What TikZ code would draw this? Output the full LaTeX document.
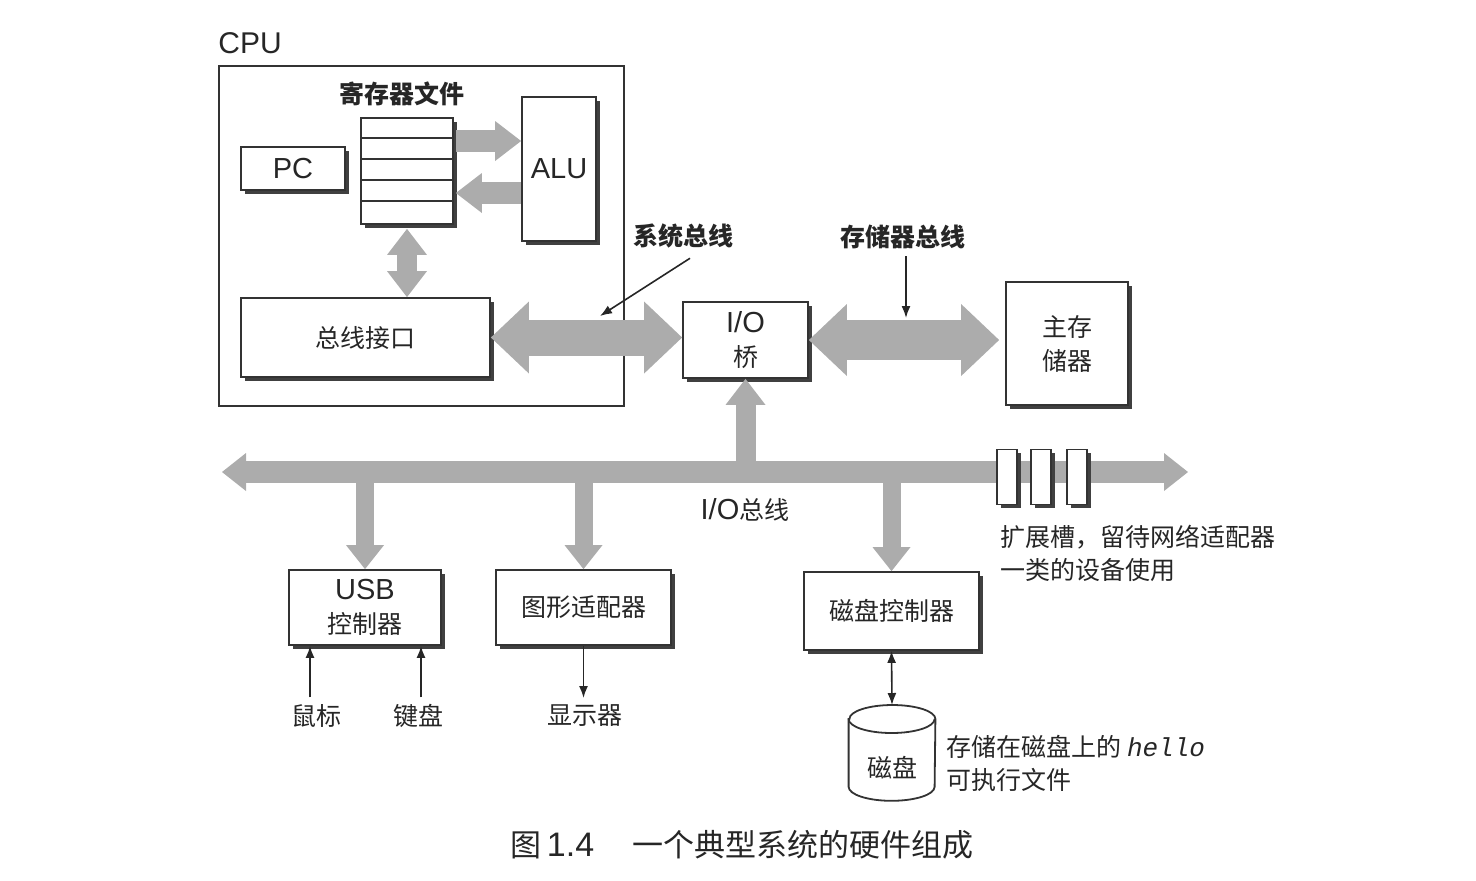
\documentclass[tikz,border=0pt]{standalone}
\usepackage{fontspec}
\setmainfont{Liberation Sans}
\newfontfamily\cjk{Noto Sans CJK SC}
\newfontfamily\monofam{Liberation Mono}
\usetikzlibrary{positioning,arrows.meta,calc,shadows}
\definecolor{busgray}{RGB}{172,172,172}
\newcommand{\lat}{\rmfamily\fontsize{14.5}{17}\selectfont}
\newcommand{\zh}{\cjk\fontsize{12.5}{17}\selectfont}

\begin{document}
\begin{tikzpicture}[x=0.5pt,y=-0.5pt,>={Latex[length=6pt,width=4.5pt]},
  box/.style={draw=black!80,line width=0.9pt,fill=white,inner sep=0pt,
    drop shadow={shadow xshift=1.8pt,shadow yshift=-1.8pt,fill=black!75,opacity=1}},
  txt/.style={font=\zh,text=black!85,align=center},
  note/.style={txt,font=\zh\bfseries},
  fattip/.tip={Triangle[length=13pt,width=20pt,line width=0pt]},
  bustip/.tip={Triangle[length=12pt,width=19pt,line width=0pt]},
  bigtip/.tip={Triangle[length=19pt,width=36pt,line width=0pt]},
  fat/.style={draw=busgray,line width=10pt},
  ptr/.style={draw=black!85,line width=0.8pt,->}]
\useasboundingbox (0,0) rectangle (1476,880);
% ---- CPU ----
\node[draw=black!80,line width=1.4pt,minimum width=202.5pt,minimum height=170pt] (cpu) at (421.5,236) {};
\node[font=\lat\fontsize{15}{17}\selectfont,text=black!85,anchor=base west,inner sep=0pt] (cpulbl) at (218,53) {CPU};
\node[box,minimum width=52pt,minimum height=21.5pt,font=\lat,text=black!85] (pc) at (293,168.5) {PC};
\node[box,minimum width=46pt,minimum height=53pt] (regfile) at (407,171) {};
\foreach \ry in {138,159,180,201}
  \draw[black!80,line width=0.7pt] (regfile.west |- 0,\ry) -- (regfile.east |- 0,\ry);
\node[note] (rflbl) at (402,94) {寄存器文件};
\node[box,minimum width=37pt,minimum height=72pt,font=\lat,text=black!85] (alu) at (559,169) {ALU};
\node[box,minimum width=124.5pt,minimum height=39.5pt,txt] (busif) at (365.5,337.5) {总线接口};
\coordinate (rd) at (0,141);
\coordinate (wr) at (0,193);
\draw[fat,line width=11pt,-fattip,shorten <=1pt] (regfile.east |- rd) -- (alu.west |- rd);
\draw[fat,line width=11pt,-fattip,shorten >=1pt] (alu.west |- wr) -- (regfile.east |- wr);
\draw[fat,fattip-fattip,shorten <=2pt] (regfile.south) -- (regfile.south |- busif.north);
% ---- bridge and memory ----
\node[box,minimum width=62.5pt,minimum height=38pt,txt] (iobridge) at (745.5,340) {{\lat I/O}\\桥};
\node[box,minimum width=61pt,minimum height=61.5pt,txt] (mainmem) at (1067,343.5) {主存\\储器};
\draw[fat,line width=18pt,bigtip-bigtip] (busif.east) -- (busif.east -| iobridge.west);
\draw[fat,line width=20pt,bigtip-bigtip,shorten >=3pt] (iobridge.east) -- (iobridge.east -| mainmem.west);
\node[note] (syslbl) at (683,236) {系统总线};
\coordinate (sysbus) at (600,316);
\draw[ptr] ([xshift=3.5pt,yshift=-1.5pt]syslbl.south) -- (sysbus);
\node[note] (memlbl) at (903,237) {存储器总线};
\coordinate (membus) at (906,318);
\draw[ptr] (memlbl.south -| membus) -- (membus);
% ---- I/O bus ----
\coordinate (busL) at (222,472);
\coordinate (busR) at (1188,472);
\draw[fat,line width=11pt,bustip-bustip] (busL) -- (busR);
\draw[fat,-fattip] (iobridge.south |- busL) -- (iobridge.south);
\node[txt] (buslbl) at (745,510) {{\lat I/O}总线};
\foreach \sx [count=\i] in {1007,1041,1077}
  \node[box,line width=0.7pt,minimum width=10pt,minimum height=27.5pt] (slot\i) at (\sx,477) {};
\node[txt,anchor=west,inner sep=1pt] (slotlbl) at (998,537) {扩展槽，留待网络适配器};
\node[txt,anchor=west,inner sep=1pt] (slotlbl2) at (998,570) {一类的设备使用};
% ---- devices ----
\node[box,minimum width=76pt,minimum height=37.5pt,txt] (usbctl) at (365,607.5) {{\lat USB}\\控制器};
\node[box,minimum width=87.5pt,minimum height=37.5pt,txt] (gfx) at (583.5,607.5) {图形适配器};
\node[box,minimum width=87.5pt,minimum height=39pt,txt] (diskctl) at (891.5,611) {磁盘控制器};
\foreach \dev in {usbctl,gfx,diskctl}
  \draw[fat,line width=9pt,-bustip] (\dev.north |- busL) -- (\dev.north);
\node[txt] (mouse) at (316,716) {鼠标};
\node[txt] (kbd) at (418,716) {键盘};
\node[txt] (monitor) at (585,716) {显示器};
\draw[ptr] ([xshift=-3pt]mouse.north) -- ([xshift=-3pt]mouse.north |- usbctl.south);
\draw[ptr] ([xshift=1.5pt]kbd.north) -- ([xshift=1.5pt]kbd.north |- usbctl.south);
\draw[ptr] (gfx.south) -- (monitor.north -| gfx.south);
% disk drawn as a cylinder round an empty node
\node[minimum width=43pt,minimum height=47.5pt,inner sep=0pt,anchor=north] (disk) at (892,705) {};
\draw[black!80,line width=0.9pt,fill=white]
  ([yshift=-7pt]disk.north west) -- ([yshift=7pt]disk.south west)
  arc[start angle=180,end angle=360,x radius=21.5pt,y radius=7pt]
  -- ([yshift=-7pt]disk.north east)
  arc[start angle=0,end angle=180,x radius=21.5pt,y radius=7pt] -- cycle;
\draw[black!80,line width=0.9pt] ([yshift=-7pt]disk.north west)
  arc[start angle=180,end angle=360,x radius=21.5pt,y radius=7pt];
\node[txt] (disktxt) at (892,768) {磁盘};
\draw[ptr,<->] (diskctl.south) -- (disk.north);
\node[txt,anchor=west,align=left,inner sep=1pt,font=\cjk\fontsize{12.5}{16.5}\selectfont] (disknote) at (944,763.5)
  {存储在磁盘上的 {\monofam\itshape\fontsize{13}{16.5}\selectfont hello}\\可执行文件};
% ---- caption ----
\node[font=\cjk\fontsize{15.5}{18}\selectfont,text=black!85] (caption) at (742,845)
  {图\,{\lat\fontsize{17}{18}\selectfont 1.4}\hspace{19pt}一个典型系统的硬件组成};
\end{tikzpicture}
\end{document}
